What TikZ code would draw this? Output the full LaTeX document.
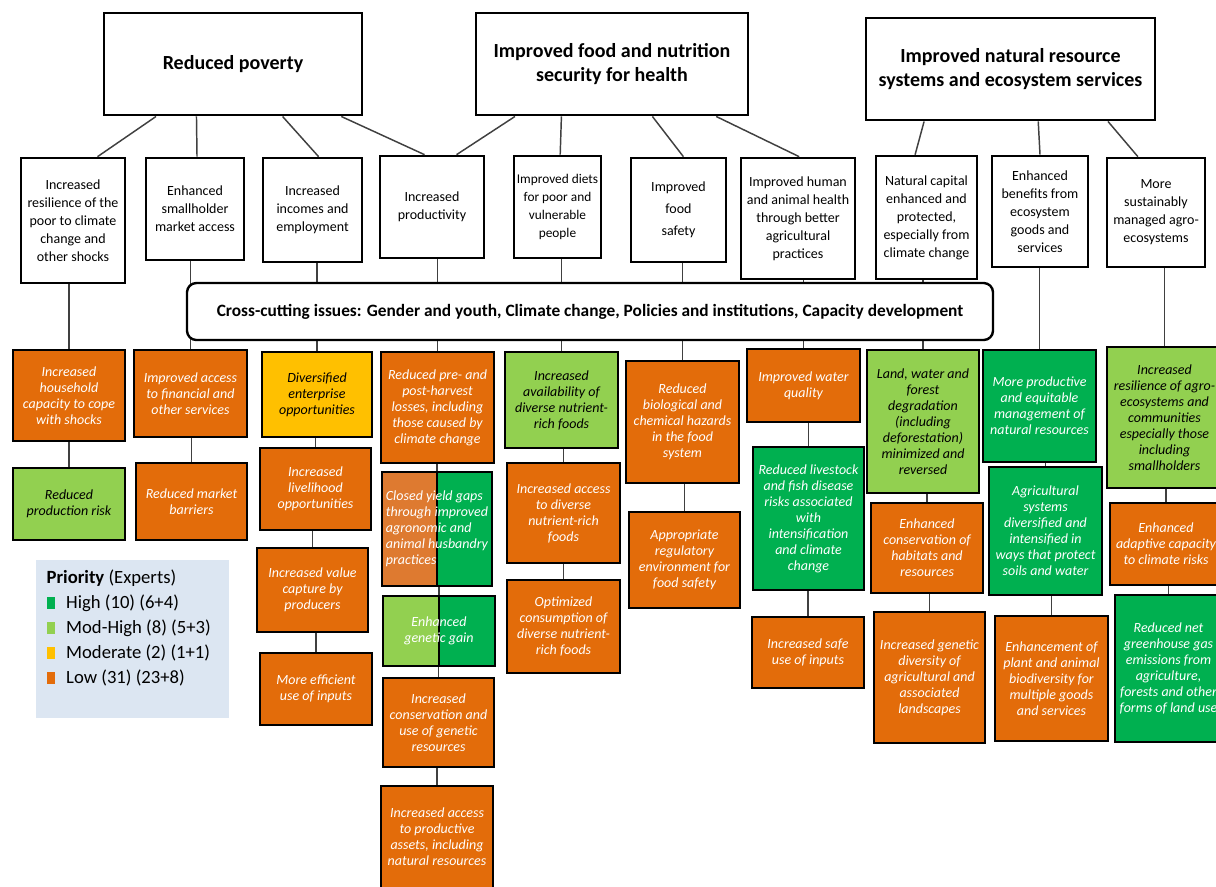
\documentclass[tikz,border=0pt]{standalone}
\usepackage{fontspec}
\setmainfont{Carlito}
\usepackage{tikz}
\usetikzlibrary{positioning, calc}

\definecolor{hic}{RGB}{0, 176, 80}
\definecolor{mhc}{RGB}{146, 208, 80}
\definecolor{modc}{RGB}{255, 192, 0}
\definecolor{lowc}{RGB}{227, 108, 10}
\definecolor{lowlt}{RGB}{222, 122, 48}
\definecolor{legbg}{RGB}{220, 230, 242}
\definecolor{linkgray}{RGB}{64, 64, 64}

\tikzset{
  sz/.style 2 args={minimum width=#1*0.75pt, minimum height=#2*0.75pt},
  goalbox/.style={draw, line width=2.2pt, fill=white, align=center, inner sep=2pt, font=\fontsize{15}{18}\selectfont\bfseries},
  outbox/.style={draw, line width=2pt, fill=white, align=center, inner sep=1pt, font=\fontsize{10.5}{13.5}\selectfont},
  resbox/.style={draw, line width=2pt, align=center, inner sep=2pt, font=\fontsize{10.5}{12}\selectfont\itshape},
  lowbox/.style={resbox, fill=lowc, text=white},
  highbox/.style={resbox, fill=hic, text=white},
  mhbox/.style={resbox, fill=mhc, text=black},
  modbox/.style={resbox, fill=modc, text=black},
  splitbox/.style 2 args={resbox, text=white, path picture={
      \fill[#1] (path picture bounding box.south west) rectangle (path picture bounding box.north);
      \fill[#2] (path picture bounding box.south) rectangle (path picture bounding box.north east);
      \draw[line width=1.2pt] (path picture bounding box.south) -- (path picture bounding box.north);}},
  crossbox/.style={draw, line width=1.8pt, fill=white, rounded corners=7pt, align=center, font=\fontsize{13}{15}\selectfont\bfseries},
  link/.style={draw=linkgray, line width=1.1pt},
  legbox/.style={fill=legbg, inner sep=0pt},
  legsq/.style={minimum width=6pt, minimum height=9.5pt, inner sep=0pt},
  legtxt/.style={font=\fontsize{14}{16}\selectfont, inner sep=1pt},
}

\begin{document}
\begin{tikzpicture}[x=0.75pt, y=-0.75pt]
  \path[fill=white, use as bounding box] (0,0) rectangle (1216,886);

  % Goals
  \node[goalbox, sz={258}{102}] (rp) at (233,64) {Reduced poverty};
  \node[goalbox, sz={272}{102}] (fn) at (612,64) {Improved food and nutrition\\security for health};
  \node[goalbox, sz={289}{102}] (nr) at (1010.5,69) {Improved natural resource\\systems and ecosystem services};

  % Outcomes
  \node[outbox, sz={104}{125}] (res) at (73,220.5) {Increased\\resilience of the\\poor to climate\\change and\\other shocks};
  \node[outbox, sz={98}{102}] (mkt) at (195,209) {Enhanced\\smallholder\\market access};
  \node[outbox, sz={99}{104}] (inc) at (312.5,210) {Increased\\incomes and\\employment};
  \node[outbox, sz={104}{102}] (prod) at (432,207) {Increased\\productivity};
  \node[outbox, sz={87}{102}, font=\fontsize{10}{13.5}\selectfont] (diet) at (557.5,207) {Improved diets\\for poor and\\vulnerable\\people};
  \node[outbox, sz={95}{104}] (safe) at (678.5,210) {Improved\\[3pt]food\\[3pt]safety};
  \node[outbox, sz={114}{121}] (hlth) at (798,218.5) {Improved human\\and animal health\\through better\\agricultural\\practices};
  \node[outbox, sz={101}{123}] (natc) at (926.5,217.5) {Natural capital\\enhanced and\\protected,\\especially from\\climate change};
  \node[outbox, sz={96}{111}] (eco) at (1040,211.5) {Enhanced\\benefits from\\ecosystem\\goods and\\services};
  \node[outbox, sz={98}{109}] (agro) at (1156,212.5) {More\\sustainably\\managed agro-\\ecosystems};

  % Results - column by column
  \node[lowbox, sz={112}{91}] (a1) at (69,395.5) {Increased\\household\\capacity to cope\\with shocks};
  \node[mhbox, sz={112}{72}] (a2) at (69,504) {Reduced\\production risk};

  \node[lowbox, sz={113}{87}] (b1) at (190.5,393.5) {Improved access\\to financial and\\other services};
  \node[lowbox, sz={111}{77}] (b2) at (191.5,501.5) {Reduced market\\barriers};

  \node[modbox, sz={110}{85}] (c1) at (317,394.5) {Diversified\\enterprise\\opportunities};
  \node[lowbox, sz={111}{82}] (c2) at (315.5,489) {Increased\\livelihood\\opportunities};
  \node[lowbox, sz={111}{84}] (c3) at (312.5,590) {Increased value\\capture by\\producers};
  \node[lowbox, sz={112}{72}] (c4) at (316,689) {More efficient\\use of inputs};

  \node[lowbox, sz={113}{111}] (d1) at (437.5,407.5) {Reduced pre- and\\post-harvest\\losses, including\\those caused by\\climate change};
  \node[splitbox={lowlt}{hic}, sz={110}{114}, align=left] (d2) at (437,529) {Closed yield gaps\\through improved\\agronomic and\\animal husbandry\\practices};
  \node[splitbox={mhc}{hic}, sz={112}{70}] (d3) at (439,631) {Enhanced\\genetic gain};
  \node[lowbox, sz={111}{89}] (d4) at (438.5,722.5) {Increased\\conservation and\\use of genetic\\resources};
  \node[lowbox, sz={112}{102}] (d5) at (437,837) {Increased access\\to productive\\assets, including\\natural resources};

  \node[mhbox, sz={113}{96}] (e1) at (561.5,400) {Increased\\availability of\\diverse nutrient-\\rich foods};
  \node[lowbox, sz={113}{100}] (e2) at (563.5,513) {Increased access\\to diverse\\nutrient-rich\\foods};
  \node[lowbox, sz={113}{93}] (e3) at (563.5,626.5) {Optimized\\consumption of\\diverse nutrient-\\rich foods};

  \node[lowbox, sz={113}{122}] (f1) at (682.5,422) {Reduced\\biological and\\chemical hazards\\in the food\\system};
  \node[lowbox, sz={111}{96}] (f2) at (684.5,560) {Appropriate\\regulatory\\environment for\\food safety};

  \node[lowbox, sz={113}{73}] (g1) at (803.5,385.5) {Improved water\\quality};
  \node[highbox, sz={111}{143}] (g2) at (808.5,518.5) {Reduced livestock\\and fish disease\\risks associated\\with\\intensification\\and climate\\change};
  \node[lowbox, sz={112}{71}] (g3) at (808,652.5) {Increased safe\\use of inputs};

  \node[mhbox, sz={112}{143}] (h1) at (923,421.5) {Land, water and\\forest\\degradation\\(including\\deforestation)\\minimized and\\reversed};
  \node[lowbox, sz={112}{90}] (h2) at (927,548) {Enhanced\\conservation of\\habitats and\\resources};
  \node[lowbox, sz={111}{131}] (h3) at (929.5,677.5) {Increased genetic\\diversity of\\agricultural and\\associated\\landscapes};

  \node[highbox, sz={113}{112}] (i1) at (1039.5,406) {More productive\\and equitable\\management of\\natural resources};
  \node[highbox, sz={113}{128}] (i2) at (1045.5,531) {Agricultural\\systems\\diversified and\\intensified in\\ways that protect\\soils and water};
  \node[lowbox, sz={113}{125}] (i3) at (1051.5,678.5) {Enhancement of\\plant and animal\\biodiversity for\\multiple goods\\and services};

  \node[mhbox, sz={115}{141}] (j1) at (1164.5,417.5) {Increased\\resilience of agro-\\ecosystems and\\communities\\especially those\\including\\smallholders};
  \node[lowbox, sz={112}{82}] (j2) at (1166,544) {Enhanced\\adaptive capacity\\to climate risks};
  \node[highbox, sz={107}{147}] (j3) at (1168.5,668.5) {Reduced net\\greenhouse gas\\emissions from\\agriculture,\\forests and other\\forms of land use};

  % goals to outcomes
  \draw[link] ($(rp.south west)!.205!(rp.south east)$) -- ($(res.north west)!.73!(res.north east)$);
  \draw[link] ($(rp.south west)!.36!(rp.south east)$) -- ($(mkt.north west)!.52!(mkt.north east)$);
  \draw[link] ($(rp.south west)!.69!(rp.south east)$) -- ($(inc.north west)!.56!(inc.north east)$);
  \draw[link] ($(rp.south west)!.915!(rp.south east)$) -- ($(prod.north west)!.43!(prod.north east)$);
  \draw[link] ($(fn.south west)!.147!(fn.south east)$) -- ($(prod.north west)!.73!(prod.north east)$);
  \draw[link] ($(fn.south west)!.316!(fn.south east)$) -- ($(diet.north west)!.53!(diet.north east)$);
  \draw[link] ($(fn.south west)!.647!(fn.south east)$) -- ($(safe.north west)!.55!(safe.north east)$);
  \draw[link] ($(fn.south west)!.879!(fn.south east)$) -- ($(hlth.north west)!.51!(hlth.north east)$);
  \draw[link] ($(nr.south west)!.204!(nr.south east)$) -- ($(natc.north west)!.39!(natc.north east)$);
  \draw[link] ($(nr.south west)!.595!(nr.south east)$) -- ($(eco.north west)!.5!(eco.north east)$);
  \draw[link] ($(nr.south west)!.834!(nr.south east)$) -- ($(agro.north west)!.32!(agro.north east)$);

  % outcomes to results
  \foreach \o/\r in {res/a1, mkt/b1, inc/c1, prod/d1, diet/e1, safe/f1, hlth/g1, natc/h1, eco/i1, agro/j1}
    \draw[link] (\r.north) -- (\r.north |- \o.south);

  % results chains
  \foreach \u/\l in {a1/a2, b1/b2, c1/c2, c2/c3, c3/c4, d1/d2, d2/d3, d3/d4, d4/d5,
                     e1/e2, e2/e3, f1/f2, g1/g2, g2/g3, h1/h2, h2/h3, i1/i2, i2/i3, j1/j2, j2/j3}
    \draw[link] (\l.north) -- (\l.north |- \u.south);

  % Cross-cutting band
  \node[crossbox, sz={806}{57}] (cross) at (590,311.5) {Cross-cutting issues: Gender and youth, Climate change, Policies and institutions, Capacity development};

  % Legend
  \node[legbox, sz={193}{158}] (leg) at (132.5,639) {};
  \node[legtxt, anchor=west] (legt) at (45,578) {\textbf{Priority} (Experts)};
  \node[legsq, fill=hic] (sq1) at (51,603) {};
  \node[legsq, fill=mhc] (sq2) at (51,628) {};
  \node[legsq, fill=modc] (sq3) at (51,653) {};
  \node[legsq, fill=lowc] (sq4) at (51,678) {};
  \node[legtxt, right=7pt of sq1] (lg1) {High (10) (6+4)};
  \node[legtxt, right=7pt of sq2] (lg2) {Mod-High (8) (5+3)};
  \node[legtxt, right=7pt of sq3] (lg3) {Moderate (2) (1+1)};
  \node[legtxt, right=7pt of sq4] (lg4) {Low (31) (23+8)};
\end{tikzpicture}
\end{document}
